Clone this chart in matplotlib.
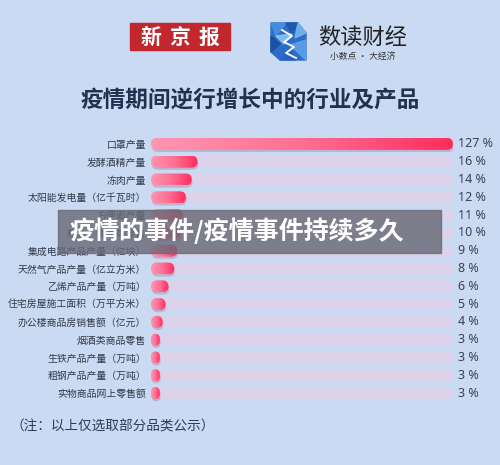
import numpy as np
import matplotlib.pyplot as plt
from matplotlib.patches import FancyBboxPatch, Rectangle, Polygon
from matplotlib.colors import LinearSegmentedColormap

plt.rcParams['font.family'] = ['Noto Sans CJK SC', 'DejaVu Sans']

# data
categories = ['口罩产量', '发酵酒精产量', '冻肉产量', '太阳能发电量（亿千瓦时）',
              '方便面产量', '粮油、食品类零售', '集成电路产品产量（亿块）',
              '天然气产品产量（亿立方米）', '乙烯产品产量（万吨）',
              '住宅房屋施工面积（万平方米）', '办公楼商品房销售额（亿元）',
              '烟酒类商品零售', '生铁产品产量（万吨）', '粗钢产品产量（万吨）',
              '实物商品网上零售额']
values = [127, 16, 14, 12, 11, 10, 9, 8, 6, 5, 4, 3, 3, 3, 3]
value_labels = [str(v) + ' %' for v in values]

W, H = 500, 465
BG = '#c9daf2'
fig = plt.figure(figsize=(5, 4.65), dpi=100)
fig.patch.set_facecolor(BG)

# background axes in pixel units for header / footer
bg = fig.add_axes([0, 0, 1, 1], zorder=0)
bg.set_xlim(0, W); bg.set_ylim(H, 0); bg.axis('off')

# 新京报 logo
bg.add_patch(Rectangle((130, 23), 100, 27, color='#c1272d'))
for k, ch in enumerate('新京报'):
    bg.text(151 + k * 29, 37, ch, color='white', fontsize=15, fontweight='bold',
            ha='center', va='center')

# 数读财经 icon (rough mosaic)
icon = Polygon([(271, 23), (298, 23), (306, 33), (306, 60), (280, 60), (271, 52)],
               closed=True, color='#2d6cc7')
bg.add_patch(icon)
tris = [[(271, 23), (286, 23), (276, 36)], [(286, 23), (298, 23), (292, 34)],
        [(298, 23), (306, 33), (295, 38)], [(271, 36), (280, 44), (271, 52)],
        [(290, 45), (306, 40), (306, 60)], [(280, 60), (290, 50), (296, 60)],
        [(276, 36), (292, 34), (284, 44)]]
shades = ['#4a8fe0', '#1d56b0', '#79b4ef', '#1b4fa3', '#5fa0ea', '#2a62bd', '#8cc3f5']
for t, c in zip(tris, shades):
    bg.add_patch(Polygon(t, closed=True, color=c, alpha=0.9))
bg.plot([282, 292, 284, 294, 286, 296], [30, 36, 42, 47, 53, 58], color='white', lw=1.3)

bg.text(318, 37, '数读财经', fontsize=16, color='#222222', ha='left', va='center')
bg.text(363, 57, '小数点 · 大经济', fontsize=6.3, color='#333333', ha='center', va='center')

# title
bg.text(250, 101, '疫情期间逆行增长中的行业及产品', fontsize=16.3, fontweight='bold',
        color='#1f3350', ha='center', va='center')

# footer
bg.text(11, 427, '（注：以上仅选取部分品类公示）', fontsize=9.8, color='#2c3e55',
        ha='left', va='center')

# bar axes
x0, x1 = 151, 453
y_top, y_bot = 135, 402
ax = fig.add_axes([x0 / W, 1 - y_bot / H, (x1 - x0) / W, (y_bot - y_top) / H], zorder=1)
ax.set_facecolor('none')
n = len(values)
xmax = 104
px_x = (x1 - x0) / xmax
px_y = (y_bot - y_top) / n
aspect = px_x / px_y
bh = 12 / px_y

cmap = LinearSegmentedColormap.from_list('pk', ['#ff95b2', '#ff6f93', '#ff2c5f'])
grad = np.linspace(0, 1, 256).reshape(1, -1)

for i, v in enumerate(values):
    # track
    r = 6 / px_x
    ax.add_patch(FancyBboxPatch((0, i - bh / 2), xmax, bh,
                                boxstyle='round,pad=0,rounding_size=%f' % r,
                                mutation_aspect=aspect, fc='#dcd3ea', ec='none', zorder=1))
    w = min(v, xmax)
    r = min(6, w * px_x / 2) / px_x
    # shadow
    ax.add_patch(FancyBboxPatch((0.3, i - bh / 2 + 0.12), w, bh,
                                boxstyle='round,pad=0,rounding_size=%f' % r,
                                mutation_aspect=aspect, fc='#8a2a5a', ec='none',
                                alpha=0.22, zorder=2))
    bar = FancyBboxPatch((0, i - bh / 2), w, bh,
                         boxstyle='round,pad=0,rounding_size=%f' % r,
                         mutation_aspect=aspect, fc='none', ec='none', zorder=3)
    ax.add_patch(bar)
    im = ax.imshow(grad, extent=[0, w, i + bh / 2, i - bh / 2], cmap=cmap,
                   aspect='auto', zorder=3, interpolation='bilinear')
    im.set_clip_path(bar)
    ax.text(1 + 5 / (x1 - x0), i, value_labels[i], transform=ax.get_yaxis_transform(),
            ha='left', va='center', fontsize=9, color='#3a4152',
            family=['Noto Sans', 'DejaVu Sans'])

ax.set_xlim(0, xmax)
ax.set_ylim(n - 0.5, -0.5)
ax.set_yticks(range(n))
ax.set_yticklabels(categories, fontsize=7.1, color='#333a48')
ax.tick_params(axis='y', length=0, pad=3.6)
ax.set_xticks([])
for s in ax.spines.values():
    s.set_visible(False)

# overlay banner
ov = fig.add_axes([0, 0, 1, 1], zorder=3)
ov.set_xlim(0, W); ov.set_ylim(H, 0); ov.axis('off')
ov.patch.set_alpha(0)
ov.add_patch(Rectangle((58, 210), 383, 43, color='#6a6a78', alpha=0.82))
ov.text(69, 231, '疫情的事件/疫情事件持续多久', fontsize=18, fontweight='bold',
        color='white', ha='left', va='center')

fig.savefig('out.png', dpi=100, facecolor=BG)
